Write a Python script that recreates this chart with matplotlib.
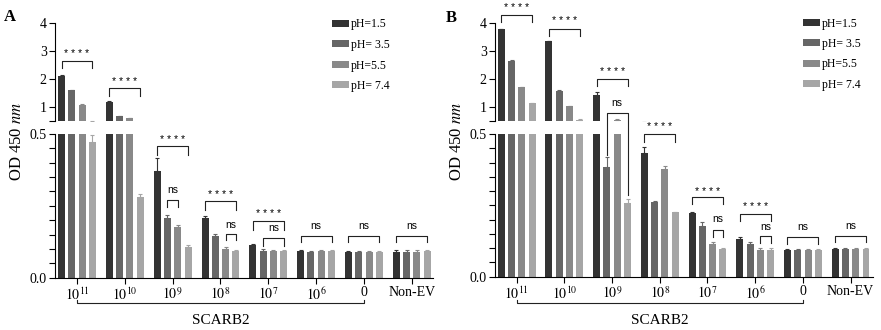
import numpy as np
import matplotlib
matplotlib.use('Agg')
import matplotlib.pyplot as plt
from matplotlib.transforms import blended_transform_factory

plt.rcParams['font.family'] = 'serif'
plt.rcParams['font.serif'] = ['Liberation Serif', 'DejaVu Serif']
plt.rcParams['mathtext.fontset'] = 'stix'

groups = ['$10^{11}$', '$10^{10}$', '$10^{9}$', '$10^{8}$',
          '$10^{7}$', '$10^{6}$', '0', 'Non-EV']
ph_labels = ['pH=1.5', 'pH= 3.5', 'pH=5.5', 'pH= 7.4']

# OD450 per group, columns pH 1.5 / 3.5 / 5.5 / 7.4
od_a = [[2.11, 1.60, 1.08, 0.473],
        [1.18, 0.68, 0.60, 0.28],
        [0.372, 0.207, 0.175, 0.108],
        [0.207, 0.145, 0.100, 0.093],
        [0.113, 0.093, 0.093, 0.093],
        [0.093, 0.091, 0.093, 0.092],
        [0.089, 0.089, 0.089, 0.090],
        [0.091, 0.091, 0.091, 0.092]]
err_a = [[0.02, 0.01, 0.01, 0.025],
         [0.03, 0.01, 0.02, 0.012],
         [0.043, 0.012, 0.010, 0.005],
         [0.008, 0.006, 0.006, 0.004],
         [0.004, 0.006, 0.005, 0.005],
         [0.005, 0.003, 0.004, 0.003],
         [0.004, 0.003, 0.003, 0.004],
         [0.004, 0.004, 0.004, 0.005]]

od_b = [[3.77, 2.64, 1.70, 1.13],
        [3.35, 1.58, 1.04, 0.55],
        [1.43, 0.385, 0.55, 0.26],
        [0.432, 0.263, 0.376, 0.226],
        [0.222, 0.178, 0.115, 0.097],
        [0.132, 0.115, 0.095, 0.095],
        [0.095, 0.095, 0.095, 0.095],
        [0.097, 0.097, 0.097, 0.097]]
err_b = [[0.02, 0.04, 0.03, 0.01],
         [0.02, 0.03, 0.01, 0.005],
         [0.10, 0.035, 0.005, 0.012],
         [0.021, 0.004, 0.012, 0.002],
         [0.004, 0.012, 0.005, 0.004],
         [0.008, 0.005, 0.004, 0.004],
         [0.003, 0.003, 0.003, 0.003],
         [0.003, 0.003, 0.003, 0.003]]

colors = ['#333333', '#666666', '#898989', '#a6a6a6']
pitch = 0.2155
width = 0.146
offs = (np.arange(4) - 1.5) * pitch
stars = '* * * *'

# significance brackets: (axis, group, bar i, bar j, y, leg i, leg j, text, text y)
sig_a = [('top', 0, 0, 3, 2.65, 2.40, 2.40, stars, 2.89),
         ('top', 1, 0, 3, 1.67, 1.39, 1.39, stars, 1.90),
         ('bot', 2, 0, 3, 0.459, 0.427, 0.427, stars, 0.479),
         ('bot', 2, 1, 2, 0.270, 0.245, 0.245, 'ns', 0.306),
         ('bot', 3, 0, 3, 0.267, 0.236, 0.236, stars, 0.288),
         ('bot', 3, 2, 3, 0.151, 0.131, 0.131, 'ns', 0.183),
         ('bot', 4, 0, 3, 0.198, 0.166, 0.166, stars, 0.222),
         ('bot', 4, 1, 3, 0.137, 0.111, 0.111, 'ns', 0.173),
         ('bot', 5, 0, 3, 0.146, 0.125, 0.125, 'ns', 0.180),
         ('bot', 6, 0, 3, 0.145, 0.124, 0.124, 'ns', 0.180),
         ('bot', 7, 0, 3, 0.146, 0.125, 0.125, 'ns', 0.180)]
sig_b = [('top', 0, 0, 3, 4.29, 4.02, 4.02, stars, 4.52),
         ('top', 1, 0, 3, 3.78, 3.54, 3.54, stars, 4.08),
         ('top', 2, 0, 3, 2.00, 1.75, 1.75, stars, 2.26),
         ('bot', 2, 1, 3, 0.573, 0.426, 0.286, 'ns', 0.608),
         ('bot', 3, 0, 3, 0.499, 0.473, 0.473, stars, 0.523),
         ('bot', 4, 0, 3, 0.279, 0.255, 0.255, stars, 0.297),
         ('bot', 4, 2, 3, 0.164, 0.138, 0.138, 'ns', 0.201),
         ('bot', 5, 0, 3, 0.220, 0.196, 0.196, stars, 0.245),
         ('bot', 5, 2, 3, 0.143, 0.119, 0.119, 'ns', 0.175),
         ('bot', 6, 0, 3, 0.140, 0.115, 0.115, 'ns', 0.175),
         ('bot', 7, 0, 3, 0.143, 0.122, 0.122, 'ns', 0.178)]


def bracket(ax, g, i, j, y, l1, l2, txt, ty):
    x1 = g + offs[i]
    x2 = g + offs[j]
    ax.plot([x1, x1, x2, x2], [l1, y, y, l2], color='#222222', lw=0.8,
            clip_on=False)
    ax.text((x1 + x2) / 2, ty, txt, ha='center', va='center', fontsize=7.5,
            family='Liberation Sans', clip_on=False)


def panel(fig, ax_top, ax_bot, od, err, sig, xlim, letter, leg_anchor):
    x = np.arange(len(groups))
    od = np.array(od)
    err = np.array(err)
    for k in range(4):
        for ax in (ax_top, ax_bot):
            ax.bar(x + offs[k], od[:, k], width, color=colors[k],
                   label=ph_labels[k])
            ax.errorbar(x + offs[k], od[:, k],
                        yerr=[np.zeros(len(x)), err[:, k]], fmt='none',
                        ecolor=colors[k], elinewidth=0.8, capsize=1.5,
                        capthick=0.8)
    ax_top.set_ylim(0.5, 4)
    ax_bot.set_ylim(0, 0.5)
    for ax in (ax_top, ax_bot):
        ax.set_xlim(*xlim)
        ax.spines['top'].set_visible(False)
        ax.spines['right'].set_visible(False)
        ax.spines['left'].set_linewidth(0.8)
        ax.tick_params(axis='y', length=4, width=0.8, labelsize=10, pad=2)
    ax_top.spines['bottom'].set_visible(False)
    ax_top.set_xticks([])
    ax_top.set_yticks([0.5, 1, 2, 3, 4])
    ax_top.set_yticklabels(['', '1', '2', '3', '4'])
    yt = np.round(np.arange(0, 0.501, 0.05), 2)
    ax_bot.set_yticks(yt)
    ax_bot.set_yticklabels(['0.0'] + [''] * (len(yt) - 2) + ['0.5'])
    ax_bot.spines['bottom'].set_linewidth(0.8)
    ax_bot.set_xticks(x)
    ax_bot.set_xticklabels(groups, fontsize=10)
    ax_bot.tick_params(axis='x', length=4, width=0.8, pad=2)

    for axn, g, i, j, y, l1, l2, txt, ty in sig:
        bracket(ax_top if axn == 'top' else ax_bot, g, i, j, y, l1, l2, txt, ty)

    # SCARB2 grouping line under the dilution labels
    tr = blended_transform_factory(ax_bot.transData, fig.transFigure)
    yl = 1 - 303.3 / 330
    yh = 1 - 299.5 / 330
    ax_bot.plot([0, 0, 6, 6], [yh, yl, yl, yh], color='#222222', lw=0.8,
                transform=tr, clip_on=False)
    ax_bot.text(3, 1 - 320 / 330, 'SCARB2', transform=tr, ha='center',
                va='center', fontsize=11)

    ax_top.legend(loc='upper left', bbox_to_anchor=leg_anchor,
                  bbox_transform=fig.transFigure, frameon=False, fontsize=8.5,
                  borderpad=0, borderaxespad=0, handlelength=1.45,
                  handleheight=0.55, handletextpad=0.15, labelspacing=0.72)
    fig.text(letter[1], letter[2], letter[0], fontsize=12,
             fontweight='bold', ha='center', va='center')
    fig.text(letter[3], 0.573, 'OD 450 $\\mathit{nm}$', rotation=90,
             fontsize=12, ha='center', va='center')


fig = plt.figure(figsize=(8.81, 3.3), dpi=100)
axA_top = fig.add_axes([55 / 881, 0.6333, 378.3 / 881, 0.297])
axA_bot = fig.add_axes([55 / 881, 0.1585, 378.3 / 881, 0.4355])
axB_top = fig.add_axes([495 / 881, 0.6333, 378 / 881, 0.297])
axB_bot = fig.add_axes([495 / 881, 0.1615, 378 / 881, 0.4324])

panel(fig, axA_top, axA_bot, od_a, err_a, sig_a, (-0.46, 7.45),
      ('A', 10 / 881, 1 - 17 / 330, 17 / 881), (332 / 881, 1 - 18.5 / 330))
panel(fig, axB_top, axB_bot, od_b, err_b, sig_b, (-0.455, 7.47),
      ('B', 451 / 881, 1 - 18 / 330, 457 / 881), (803 / 881, 1 - 17.5 / 330))

fig.savefig('out.png', dpi=100)
